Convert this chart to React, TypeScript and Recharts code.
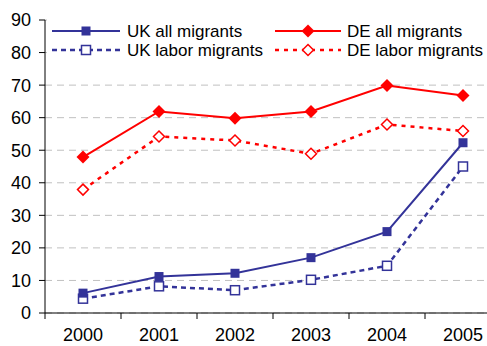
import { LineChart, Line, XAxis, YAxis, CartesianGrid, Legend } from 'recharts';

const years = ['2000', '2001', '2002', '2003', '2004', '2005'];
const ukAll = [6.1, 11.2, 12.2, 17, 25, 52.3];
const ukLabor = [4.4, 8.2, 7.0, 10.2, 14.5, 45];
const deAll = [47.9, 61.9, 59.8, 61.9, 69.9, 66.8];
const deLabor = [37.9, 54.2, 53.0, 48.9, 57.9, 55.9];
const yTicks = [0, 10, 20, 30, 40, 50, 60, 70, 80, 90];

const BLUE = '#333399';
const RED = '#ff0000';
const FONT = 'Arial, "Liberation Sans", sans-serif';

const CHART_W = 505;
const CHART_H = 346;
const Y_AXIS_W = 45;
const MARGIN = { top: 20, right: 4, bottom: 0, left: 0 };
const BAND = (CHART_W - MARGIN.left - MARGIN.right - Y_AXIS_W) / years.length;

const data = years.map((year, i) => ({
  year,
  ukAll: ukAll[i],
  ukLabor: ukLabor[i],
  deAll: deAll[i],
  deLabor: deLabor[i],
}));

type Kind = 'square' | 'openSquare' | 'diamond' | 'openDiamond';

function Marker({ cx, cy, kind, color }: { cx: number; cy: number; kind: Kind; color: string }) {
  if (cx == null || cy == null) return null;
  if (kind === 'square') {
    return <rect x={cx - 4.5} y={cy - 4.5} width={9} height={9} fill={color} />;
  }
  if (kind === 'openSquare') {
    return <rect x={cx - 4.5} y={cy - 4.5} width={9} height={9} fill="#fff" stroke={color} strokeWidth={1.5} />;
  }
  const r = kind === 'diamond' ? 6.5 : 5.5;
  const pts = `${cx},${cy - r} ${cx + r},${cy} ${cx},${cy + r} ${cx - r},${cy}`;
  if (kind === 'diamond') return <polygon points={pts} fill={color} />;
  return <polygon points={pts} fill="#fff" stroke={color} strokeWidth={1.5} />;
}

const series = [
  { key: 'ukLabor', name: 'UK labor migrants', color: BLUE, dash: '5 4', kind: 'openSquare' as Kind },
  { key: 'ukAll', name: 'UK all migrants', color: BLUE, dash: undefined, kind: 'square' as Kind },
  { key: 'deLabor', name: 'DE labor migrants', color: RED, dash: '4 5', kind: 'openDiamond' as Kind },
  { key: 'deAll', name: 'DE all migrants', color: RED, dash: undefined, kind: 'diamond' as Kind },
];

// legend order: row 1 = solid lines, row 2 = dashed lines
const legendItems = [
  { s: series[1], col: 0, row: 0 },
  { s: series[3], col: 1, row: 0 },
  { s: series[0], col: 0, row: 1 },
  { s: series[2], col: 1, row: 1 },
];

function CustomLegend() {
  const cols = [
    { x1: 5, x2: 73, tx: 80 },
    { x1: 228, x2: 294, tx: 300 },
  ];
  return (
    <svg width={440} height={44} style={{ display: 'block', background: '#fff' }}>
      {legendItems.map(({ s, col, row }) => {
        const c = cols[col];
        const y = 12 + row * 19;
        return (
          <g key={s.key}>
            <line
              x1={c.x1}
              x2={c.x2}
              y1={y}
              y2={y}
              stroke={s.color}
              strokeWidth={s.dash ? 2.5 : 2}
              strokeDasharray={s.dash}
            />
            <Marker cx={(c.x1 + c.x2) / 2} cy={y} kind={s.kind} color={s.color} />
            <text x={c.tx} y={y} dy="0.36em" fontSize={17} fontFamily={FONT} fill="#000">
              {s.name}
            </text>
          </g>
        );
      })}
    </svg>
  );
}

function XTick({ x, y, payload }: any) {
  return (
    <g>
      <line x1={x - BAND / 2} x2={x - BAND / 2} y1={y - 6} y2={y} stroke="#000" />
      <text x={x} y={y + 9} dy="0.71em" textAnchor="middle" fontSize={18} fontFamily={FONT} fill="#000">
        {payload.value}
      </text>
    </g>
  );
}

export default function App() {
  return (
    <div style={{ position: 'absolute', left: 0, top: 0, width: 487, height: 346, overflow: 'hidden', background: '#fff' }}>
      <LineChart width={CHART_W} height={CHART_H} data={data} margin={MARGIN}>
        <CartesianGrid vertical={false} stroke="#c0c0c0" strokeDasharray="7 5" />
        <XAxis
          dataKey="year"
          scale="band"
          height={33}
          axisLine={{ stroke: '#000' }}
          tickLine={false}
          tickSize={6}
          tickMargin={0}
          tick={<XTick />}
          interval={0}
        />
        <YAxis
          domain={[0, 90]}
          ticks={yTicks}
          width={Y_AXIS_W}
          axisLine={{ stroke: '#000' }}
          tickLine={{ stroke: '#000' }}
          tickSize={6}
          tickMargin={8}
          tick={{ fontSize: 18, fontFamily: FONT, fill: '#000' }}
          interval={0}
        />
        <Legend
          layout="horizontal"
          verticalAlign="middle"
          align="center"
          wrapperStyle={{ position: 'absolute', top: 19, left: 47, width: 440, height: 44 }}
          content={() => <CustomLegend />}
        />
        {series.map(s => (
          <Line
            key={s.key}
            dataKey={s.key}
            name={s.name}
            stroke={s.color}
            strokeWidth={s.dash ? 2.5 : 2}
            strokeDasharray={s.dash}
            isAnimationActive={false}
            dot={(p: any) => <Marker key={`${s.key}-${p.index}`} cx={p.cx} cy={p.cy} kind={s.kind} color={s.color} />}
            activeDot={false}
          />
        ))}
      </LineChart>
    </div>
  );
}
